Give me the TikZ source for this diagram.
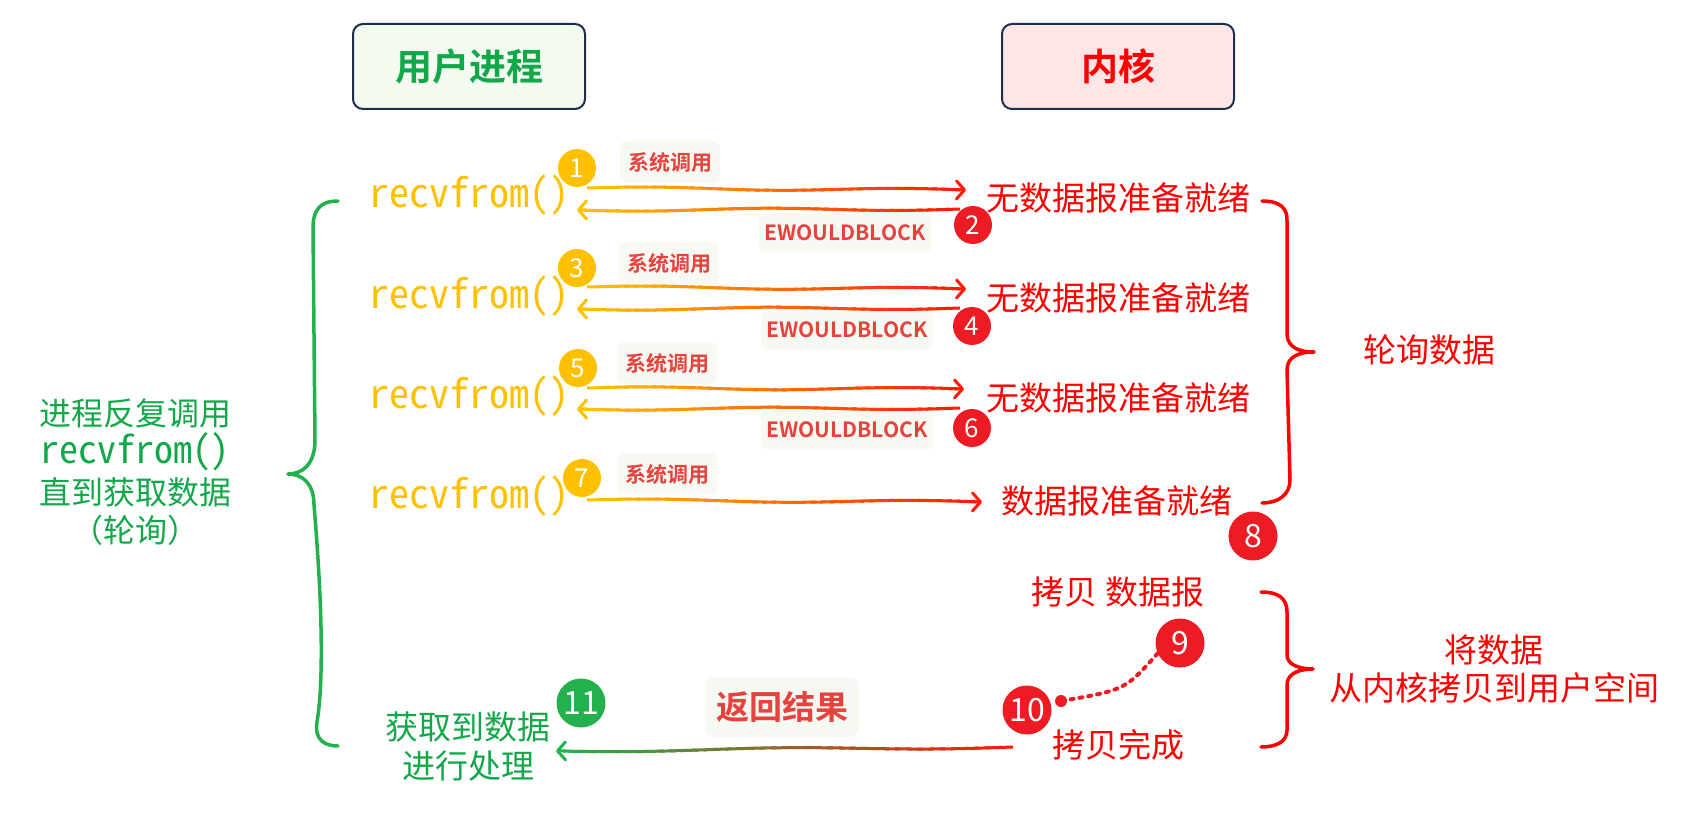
\documentclass[tikz,border=0pt]{standalone}
\usepackage{fontspec}
\setmainfont{Noto Sans CJK SC}[BoldFont={Noto Sans CJK SC Bold}]
\newfontfamily\mono{Noto Sans Mono CJK SC}
\usetikzlibrary{arrows.meta,calc}

\definecolor{amber}{HTML}{FFC000}
\definecolor{arred}{HTML}{FF1A0A}
\definecolor{kred}{HTML}{FF0000}
\definecolor{bred}{HTML}{ED1C24}
\definecolor{lred}{HTML}{E8413E}
\definecolor{ugreen}{HTML}{12A84A}
\definecolor{bgreen}{HTML}{22B14C}
\definecolor{labbg}{HTML}{F6FAF3}
\definecolor{gfill}{HTML}{F3FAF0}
\definecolor{pfill}{HTML}{FFE6E6}
\definecolor{navy}{HTML}{1F2D4D}

\newcommand\fs[1]{\fontsize{#1}{#1}\selectfont}

% gradient connector with a gentle hand-drawn wave: from, to, start colour, end colour
\newcommand\gradconn[4]{%
  \foreach \i in {0,...,39}{%
    \pgfmathsetmacro\ta{\i/40*0.985}%
    \pgfmathsetmacro\tb{min((\i+1.5)/40,1)*0.985}%
    \pgfmathsetmacro\oa{1.3*sin(540*\ta)}%
    \pgfmathsetmacro\ob{1.3*sin(540*\tb)}%
    \pgfmathtruncatemacro\pc{100*\i/39}%
    \draw[line width=3pt, draw=#4!\pc!#3]
      ($(#1)!\ta!(#2)!\oa pt!90:(#2)$) -- ($(#1)!\tb!(#2)!\ob pt!90:(#2)$);
  }%
  \draw[line width=3pt, #4, -{Straight Barb[length=8pt,width=18pt,line cap=round,line join=round]}]
    ($(#2)!10pt!(#1)$) -- (#2);
}

\tikzset{
  titlebox/.style={draw=navy, line width=2pt, rounded corners=10pt, minimum width=232pt,
    minimum height=85pt, font=\fs{37}\bfseries},
  rfstyle/.style={text=amber, font=\mono\fs{40}, inner sep=0pt, anchor=base},
  ktext/.style={text=kred, font=\fs{33}, inner sep=0pt},
  gtext/.style={text=ugreen, font=\fs{32}, inner sep=0pt},
  badge/.style={circle, fill=#1, text=white, font=\fs{26}, inner sep=0pt, minimum size=38pt},
  bigbadge/.style={circle, fill=#1, text=white, font=\fs{32}, inner sep=0pt, minimum size=49pt},
  syslab/.style={fill=labbg, rounded corners=6pt, text=lred, font=\fs{21}\bfseries,
    minimum width=100pt, minimum height=42pt, inner sep=0pt},
  ewlab/.style={fill=labbg, rounded corners=6pt, text=lred, font=\fs{21}\bfseries,
    minimum width=172pt, minimum height=39pt, inner sep=0pt},
  bracestyle/.style={line width=3.5pt, line cap=round, line join=round},
}

\begin{document}
\begin{tikzpicture}[x=1pt,y=-1pt]
\useasboundingbox (0,0) rectangle (1687,813);

% title boxes
\node[titlebox, fill=gfill, text=ugreen] (tu) at (469,66.5) {用户进程};
\node[titlebox, fill=pfill, text=kred] (tk) at (1118,66.5) {内核};

% recvfrom rows
\node[rfstyle] (rf1) at (469.5,208) {recvfrom()};
\node[rfstyle] (rf2) at (469.5,308) {recvfrom()};
\node[rfstyle] (rf3) at (469.5,408) {recvfrom()};
\node[rfstyle] (rf4) at (469.5,508) {recvfrom()};

% kernel texts
\node[ktext] (k1) at (1118,198) {无数据报准备就绪};
\node[ktext] (k2) at (1118,298) {无数据报准备就绪};
\node[ktext] (k3) at (1118,398) {无数据报准备就绪};
\node[ktext] (k4) at (1117,501) {数据报准备就绪};

% labels
\node[syslab] (s1) at (670,162) {系统调用};
\node[syslab] (s2) at (669,263) {系统调用};
\node[syslab] (s3) at (667,363) {系统调用};
\node[syslab] (s4) at (667,474) {系统调用};
\node[ewlab] (e1) at (845,233) {EWOULDBLOCK};
\node[ewlab] (e2) at (847,330) {EWOULDBLOCK};
\node[ewlab] (e3) at (847,430) {EWOULDBLOCK};

% arrow end points
\coordinate (r1a) at (587,188); \coordinate (r1b) at (966,190);
\coordinate (l1a) at (960,209); \coordinate (l1b) at (577,210);
\coordinate (r2a) at (587,287); \coordinate (r2b) at (966,289);
\coordinate (l2a) at (960,308); \coordinate (l2b) at (577,309);
\coordinate (r3a) at (587,388); \coordinate (r3b) at (964,389);
\coordinate (l3a) at (960,408); \coordinate (l3b) at (577,409);
\coordinate (r4a) at (587,500); \coordinate (r4b) at (982,502);

\gradconn{r1a}{r1b}{amber}{arred}
\gradconn{l1a}{l1b}{arred}{amber}
\gradconn{r2a}{r2b}{amber}{arred}
\gradconn{l2a}{l2b}{arred}{amber}
\gradconn{r3a}{r3b}{amber}{arred}
\gradconn{l3a}{l3b}{arred}{amber}
\gradconn{r4a}{r4b}{amber}{arred}

% badges
\node[badge=amber] (b1) at (577,168) {1};
\node[badge=bred] (b2) at (973,225) {2};
\node[badge=amber] (b3) at (577,268) {3};
\node[badge=bred] (b4) at (972,326) {4};
\node[badge=amber] (b5) at (578,368) {5};
\node[badge=bred] (b6) at (972,428) {6};
\node[badge=amber] (b7) at (582,478) {7};
\node[bigbadge=bred] (b8) at (1253,536) {8};
\node[bigbadge=bred] (b9) at (1180,643) {9};
\node[bigbadge=bred] (b10) at (1027,710) {10};
\node[bigbadge=bgreen] (b11) at (581,703) {11};

% copy stage
\node[ktext] (cp1) at (1118,592) {拷贝 数据报};
\node[ktext] (cp2) at (1118,745) {拷贝完成};
\coordinate (d10) at (1061,701);
\draw[bred, line width=4pt, dash pattern=on 3pt off 6pt, line cap=round]
  (b9.205) .. controls (1125,690) .. (d10);
\fill[bred] (d10) circle (6);

% return result
\node[gtext, font=\fs{33}] (got1) at (468,727) {获取到数据};
\node[gtext, font=\fs{33}] (got2) at (468,766) {进行处理};
\node[fill=labbg, rounded corners=8pt, text=lred, font=\fs{33}\bfseries,
  minimum width=154pt, minimum height=60pt, inner sep=0pt] (ret) at (782,707) {返回结果};
\coordinate (ra) at (1013,747); \coordinate (rb) at (556,751);
\gradconn{ra}{rb}{arred}{bgreen}

% left label
\node[gtext] (lt1) at (135,413) {进程反复调用};
\node[gtext, font=\mono\fs{38}] (lt2) at (135,452) {recvfrom()};
\node[gtext] (lt3) at (135,492) {直到获取数据};
\node[gtext] (lt4) at (135,530) {（轮询）};

% right labels
\node[ktext] (poll) at (1429,350) {轮询数据};
\node[ktext] (cpl1) at (1494,650) {将数据};
\node[ktext] (cpl2) at (1494,688) {从内核拷贝到用户空间};

% braces
\draw[bgreen, bracestyle] (338,201) .. controls (320,201) and (313,210) .. (313,228)
  -- (315,440) .. controls (315,466) and (301,474) .. (288,474)
  .. controls (301,474) and (314,482) .. (314,505)
  .. controls (322,600) and (324,680) .. (317,722)
  .. controls (314,740) and (325,746) .. (338,746);
\draw[kred, bracestyle] (1262,201) .. controls (1280,201) and (1288,208) .. (1287,222)
  -- (1287,335) .. controls (1288,348) and (1300,352) .. (1314,352)
  .. controls (1300,352) and (1287,356) .. (1287,370)
  -- (1290,480) .. controls (1290,495) and (1278,503) .. (1262,503);
\draw[kred, bracestyle] (1261,592) .. controls (1278,592) and (1287,598) .. (1287,612)
  -- (1287,655) .. controls (1287,665) and (1300,669) .. (1313,669)
  .. controls (1300,669) and (1287,673) .. (1287,685)
  -- (1287,730) .. controls (1287,742) and (1276,747) .. (1261,747);
\end{tikzpicture}
\end{document}
